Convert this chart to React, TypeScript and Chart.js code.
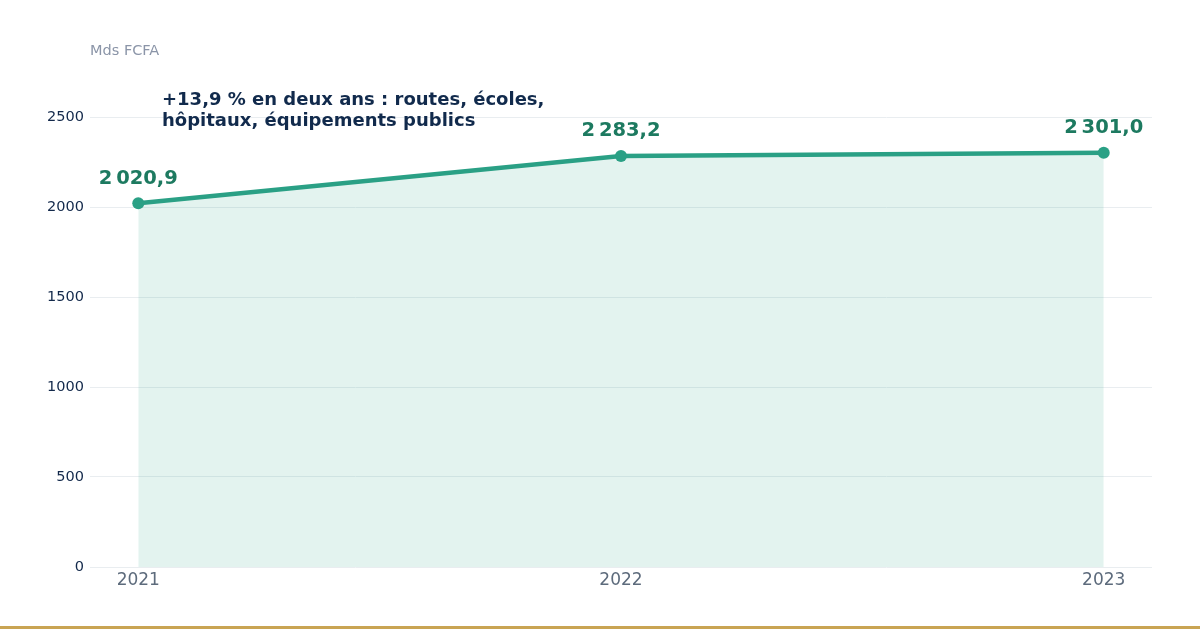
import React, { useEffect, useRef } from "react";
import { Chart, registerables } from "chart.js";

Chart.register(...registerables);

const years = [2021, 2022, 2023];
const values = [2020.9, 2283.2, 2301.0];
const yTicks = [0, 500, 1000, 1500, 2000, 2500];
const unitLabel = "Mds FCFA";
const noteLines = [
  "+13,9 % en deux ans : routes, écoles,",
  "hôpitaux, équipements publics",
];

const FONT = "'DejaVu Sans', sans-serif";

function fmt(v: number): string {
  const [i, d] = v.toFixed(1).split(".");
  const int = i.replace(/\B(?=(\d{3})+(?!\d))/g, "\u202F");
  return int + "," + d;
}

const overlay = {
  id: "overlay",
  afterDatasetsDraw(chart: any) {
    const ctx = chart.ctx;
    const meta = chart.getDatasetMeta(0);
    ctx.save();
    ctx.font = `bold 19.5px ${FONT}`;
    ctx.fillStyle = "#1d7a60";
    ctx.textAlign = "center";
    ctx.textBaseline = "bottom";
    meta.data.forEach((pt: any, i: number) => {
      ctx.fillText(fmt(values[i]), pt.x, pt.y - 15);
    });
    ctx.font = `14.5px ${FONT}`;
    ctx.fillStyle = "#8b95a8";
    ctx.textAlign = "left";
    ctx.textBaseline = "middle";
    ctx.fillText(unitLabel, chart.chartArea.left, 51);
    ctx.font = `bold 18px ${FONT}`;
    ctx.fillStyle = "#112a4c";
    noteLines.forEach((l, i) => ctx.fillText(l, 162, 100 + i * 21));
    ctx.restore();
  },
};

export default function App() {
  const ref = useRef<HTMLCanvasElement>(null);
  useEffect(() => {
    document.body.style.margin = "0";
    const chart = new Chart(ref.current!, {
      type: "line",
      data: {
        datasets: [
          {
            data: years.map((y, i) => ({ x: y, y: values[i] })),
            borderColor: "#2aa085",
            backgroundColor: "rgba(42,160,133,0.13)",
            borderWidth: 4.5,
            fill: "origin",
            pointRadius: 6,
            pointBackgroundColor: "#2aa085",
            pointBorderWidth: 0,
            tension: 0,
          },
        ],
      },
      options: {
        animation: false,
        responsive: false,
        maintainAspectRatio: false,
        layout: { padding: { top: 72, right: 48, left: 0, bottom: 0 } },
        plugins: { legend: { display: false }, tooltip: { enabled: false } },
        scales: {
          x: {
            type: "linear",
            min: 2020.9,
            max: 2023.1,
            afterBuildTicks: (s: any) => {
              s.ticks = years.map((v) => ({ value: v }));
            },
            afterFit: (s: any) => {
              s.height = 59;
            },
            grid: { display: false, drawTicks: false },
            border: { display: false },
            ticks: {
              color: "#5d6b7c",
              font: { family: FONT, size: 17 },
              padding: 3,
              callback: (v: any) => String(v),
            },
          },
          y: {
            min: 0,
            max: 2750,
            afterBuildTicks: (s: any) => {
              s.ticks = yTicks.map((v) => ({ value: v }));
            },
            afterFit: (s: any) => {
              s.width = 90;
            },
            grid: { color: "#e9edf0", drawTicks: false, lineWidth: 1 },
            border: { display: false },
            ticks: {
              color: "#13294b",
              font: { family: FONT, size: 14.5 },
              padding: 6,
              callback: (v: any) => String(v),
            },
          },
        },
      },
      plugins: [overlay],
    });
    return () => chart.destroy();
  }, []);
  return (
    <div
      style={{
        width: 1200,
        height: 629,
        boxSizing: "border-box",
        borderBottom: "3px solid #c9a453",
        background: "#fff",
        overflow: "hidden",
      }}
    >
      <canvas ref={ref} width={1200} height={626} style={{ display: "block" }} />
    </div>
  );
}
